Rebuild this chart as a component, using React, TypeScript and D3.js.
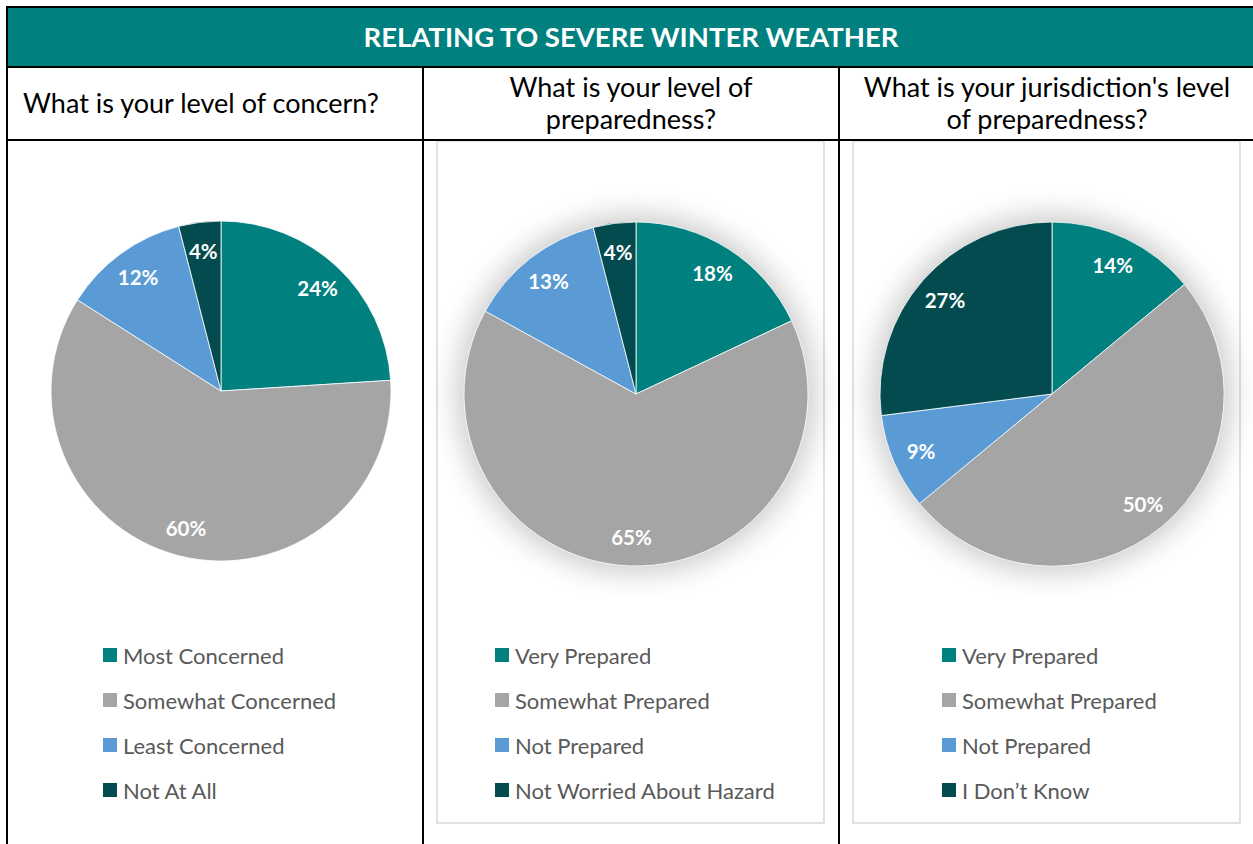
import React from 'react';
import * as d3 from 'd3';

const headerTitle = 'RELATING TO SEVERE WINTER WEATHER';

const concernQuestion = ['What is your level of concern?'];
const concernCategories = ['Most Concerned', 'Somewhat Concerned', 'Least Concerned', 'Not At All'];
const concernValues = [24, 60, 12, 4];

const prepQuestion = ['What is your level of', 'preparedness?'];
const prepCategories = ['Very Prepared', 'Somewhat Prepared', 'Not Prepared', 'Not Worried About Hazard'];
const prepValues = [18, 65, 13, 4];

const jurisQuestion = ["What is your jurisdiction's level", 'of preparedness?'];
const jurisCategories = ['Very Prepared', 'Somewhat Prepared', 'Not Prepared', 'I Don\u2019t Know'];
const jurisValues = [14, 50, 9, 27];

const sliceColors = ['#00807F', '#A5A5A5', '#5B9BD5', '#034B4F'];

const W = 1253;
const H = 844;
const FONT = 'Lato, "Open Sans", sans-serif';

type Panel = {
  question: string[];
  qAnchor: 'start' | 'middle';
  qx: number;
  qy: number[];
  categories: string[];
  values: number[];
  cx: number;
  cy: number;
  r: number;
  legendX: number;
  shadow: boolean;
  box: [number, number, number, number] | null;
};

const panels: Panel[] = [
  {
    question: concernQuestion, qAnchor: 'start', qx: 23, qy: [113],
    categories: concernCategories, values: concernValues,
    cx: 221, cy: 391, r: 170, legendX: 103, shadow: false, box: null,
  },
  {
    question: prepQuestion, qAnchor: 'middle', qx: 631, qy: [97, 129],
    categories: prepCategories, values: prepValues,
    cx: 636, cy: 394, r: 172, legendX: 495, shadow: true, box: [437, 141, 387, 682],
  },
  {
    question: jurisQuestion, qAnchor: 'middle', qx: 1047, qy: [97, 129],
    categories: jurisCategories, values: jurisValues,
    cx: 1052, cy: 394, r: 172, legendX: 942, shadow: true, box: [853, 141, 387, 682],
  },
];

const legendY0 = 655;
const legendStep = 45;

function PiePanel({ p }: { p: Panel }) {
  const pie = d3.pie<number>().sort(null).value((d) => d);
  const arcs = pie(p.values);
  const arc = d3.arc<d3.PieArcDatum<number>>().innerRadius(0).outerRadius(p.r);
  const labelArc = d3.arc<d3.PieArcDatum<number>>().innerRadius(p.r * 0.83).outerRadius(p.r * 0.83);
  return (
    <g>
      {p.box && (
        <rect x={p.box[0]} y={p.box[1]} width={p.box[2]} height={p.box[3]} fill="#fff" stroke="#d9d9d9" strokeWidth={1.5} />
      )}
      {p.question.map((line, i) => (
        <text key={i} x={p.qx} y={p.qy[i]} textAnchor={p.qAnchor} fontSize={27} fontFamily={FONT} fill="#000">
          {line}
        </text>
      ))}
      {p.shadow && (
        <circle cx={p.cx} cy={p.cy} r={p.r + 6} fill="#000" opacity={0.22} filter="url(#glow)" />
      )}
      <g transform={`translate(${p.cx},${p.cy})`}>
        {arcs.map((a, i) => (
          <path key={i} d={arc(a) || ''} fill={sliceColors[i]} stroke="#fff" strokeWidth={0.8} />
        ))}
        {arcs.map((a, i) => {
          const [lx, ly] = labelArc.centroid(a);
          return (
            <text key={'l' + i} x={lx} y={ly} textAnchor="middle" dominantBaseline="central"
              fontSize={20.5} fontWeight="bold" fontFamily={FONT} fill="#fff">
              {`${a.data}%`}
            </text>
          );
        })}
      </g>
      {p.categories.map((c, i) => (
        <g key={'lg' + i}>
          <rect x={p.legendX} y={legendY0 + i * legendStep - 7} width={14} height={14} fill={sliceColors[i]} />
          <text x={p.legendX + 20} y={legendY0 + i * legendStep} dominantBaseline="central"
            fontSize={22} fontFamily={FONT} fill="#595959">
            {c}
          </text>
        </g>
      ))}
    </g>
  );
}

export default function App() {
  return (
    <svg width={W} height={H} style={{ position: 'absolute', left: 0, top: 0, background: '#fff' }}>
      <defs>
        <filter id="glow" x="-50%" y="-50%" width="200%" height="200%">
          <feGaussianBlur stdDeviation={15} />
        </filter>
      </defs>
      <rect x={0} y={0} width={W} height={H} fill="#fff" />
      <rect x={8} y={8} width={W - 8} height={58} fill="#00807F" />
      <text x={631} y={47} textAnchor="middle" fontSize={27.5} fontWeight="bold" fontFamily={FONT} fill="#fff">
        {headerTitle}
      </text>
      {panels.map((p, i) => (
        <PiePanel key={i} p={p} />
      ))}
      <line x1={6} x2={W} y1={7} y2={7} stroke="#000" strokeWidth={2} />
      <line x1={7} x2={7} y1={6} y2={H} stroke="#000" strokeWidth={2} />
      <line x1={7} x2={W} y1={67} y2={67} stroke="#000" strokeWidth={2} />
      <line x1={7} x2={W} y1={140} y2={140} stroke="#000" strokeWidth={2} />
      <line x1={423} x2={423} y1={67} y2={H} stroke="#000" strokeWidth={2} />
      <line x1={839} x2={839} y1={67} y2={H} stroke="#000" strokeWidth={2} />
    </svg>
  );
}
